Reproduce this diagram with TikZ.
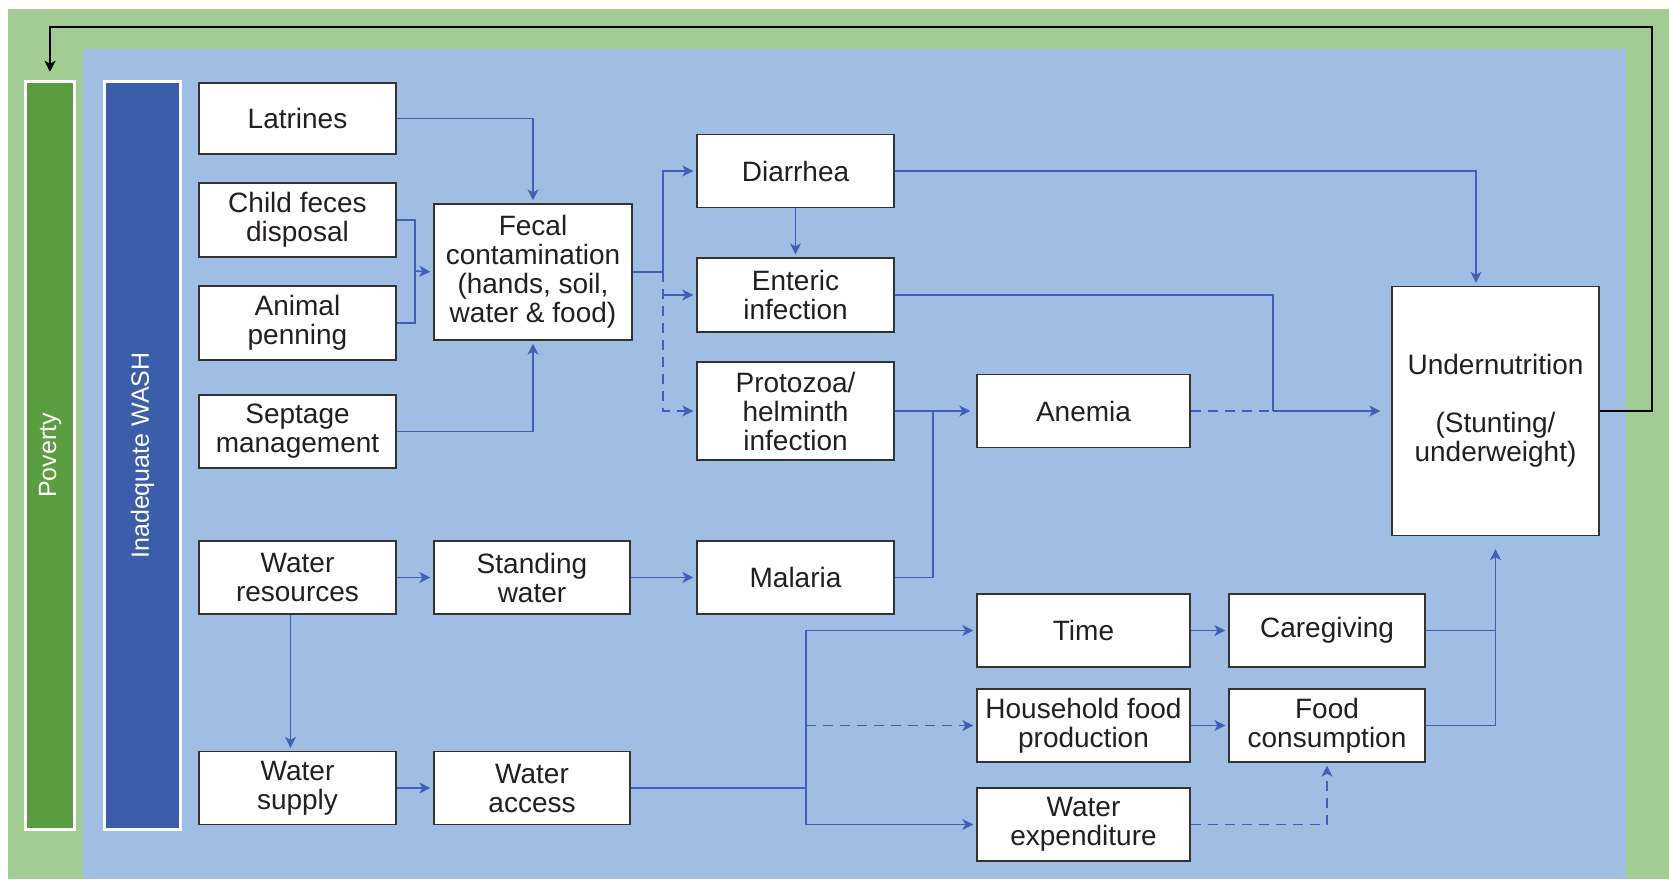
\documentclass[tikz,border=0pt]{standalone}
\usepackage{fontspec}
\setmainfont{Liberation Sans}
\usetikzlibrary{arrows.meta}
\definecolor{outergreen}{HTML}{A3CC94}
\definecolor{bluebg}{HTML}{A0BDE3}
\definecolor{povgreen}{HTML}{5A9E41}
\definecolor{washblue}{HTML}{3C5DAA}
\definecolor{flowblue}{HTML}{4060B8}
\definecolor{boxline}{HTML}{333333}
\definecolor{textdark}{HTML}{231F20}

\begin{document}
\begin{tikzpicture}[x=1pt, y=-1pt,
        >={Stealth[length=11pt,width=11pt,inset=3pt]},
        box/.style={draw=boxline, fill=white, line width=1.3pt, align=center, inner sep=0pt,
                minimum width=197, minimum height=73, text=textdark,
                font=\fontsize{28}{29}\selectfont},
        bar/.style={draw=white, line width=3.5pt, rotate=90, minimum width=748, text=white,
                font=\fontsize{25}{27}\selectfont},
        link/.style={draw=flowblue, line width=1.6pt},
        flow/.style={link, ->, shorten >=3pt},
        dashes/.style={dash pattern=on 10pt off 7pt},
        back/.style={draw=black, line width=1.6pt, ->}]
        \useasboundingbox (0,0) rectangle (1669,879);
        \fill[outergreen] (8,9) rectangle (1669,879);
        \fill[bluebg] (83,49) rectangle (1626,879);

        \node[bar, fill=povgreen, minimum height=49] (poverty) at (50,455.5) {Poverty};
        \node[bar, fill=washblue, minimum height=76] (wash) at (142.5,455.5) {Inadequate WASH};

        \node[box, minimum height=71] (latr) at (297.5,118.5) {Latrines};
        \node[box, minimum height=74] (child) at (297.5,220) {Child feces\\disposal};
        \node[box, minimum height=74] (animal) at (297.5,323) {Animal\\penning};
        \node[box] (septage) at (297.5,431.5) {Septage\\management};
        \node[box, minimum width=198, minimum height=136] (fecal) at (533,272) {Fecal\\contamination\\(hands, soil,\\water \& food)};
        \node[box] (diarr) at (795.5,171) {Diarrhea};
        \node[box, minimum height=74] (enteric) at (795.5,295) {Enteric\\infection};
        \node[box, minimum height=98] (proto) at (795.5,411) {Protozoa/\\helminth\\infection};
        \node[box, minimum width=213] (anemia) at (1083.5,411) {Anemia};
        \node[box, minimum width=207, minimum height=249] (under) at (1495.5,411) {Undernutrition\\[29pt](Stunting/\\underweight)};
        \node[box] (wres) at (297.5,577.5) {Water\\resources};
        \node[box, minimum width=196] (standing) at (532,577.5) {Standing\\water};
        \node[box] (malaria) at (795.5,577.5) {Malaria};
        \node[box, minimum width=213] (time) at (1083.5,630.5) {Time};
        \node[box, minimum width=196] (care) at (1327,630.5) {Caregiving};
        \node[box, minimum width=213] (hhfood) at (1083.5,725.5) {Household food\\production};
        \node[box, minimum width=196] (foodcons) at (1327,725.5) {Food\\consumption};
        \node[box] (wsupply) at (297.5,788) {Water\\supply};
        \node[box, minimum width=196] (waccess) at (532,788) {Water\\access};
        \node[box, minimum width=213] (wexp) at (1083.5,824.5) {Water\\expenditure};

        \coordinate (cfj) at (415,271);
        \coordinate (fj) at (663,272);
        \coordinate (dj) at (1476,171);
        \coordinate (ej) at (1273,411);
        \coordinate (mj) at (933,411);
        \coordinate (aj) at (806,788);
        \coordinate (fbc) at (1652,27);

        \draw[flow] (latr.east) -| (fecal.north);
        \draw[link] (child.east) -| (cfj) |- (animal.east);
        \draw[flow] (cfj) -- (fecal.west);
        \draw[flow] (septage.east) -| (fecal.south);

        \draw[link] (fecal.east) -- (fj);
        \draw[flow] (fj) |- (diarr.west);
        \draw[flow] (fj |- enteric.west) -- (enteric.west);
        \draw[flow, dashes] (fj) |- (proto.west);
        \draw[flow] (diarr) -- (enteric);
        \draw[flow] (diarr.east) -- (dj) -- (dj |- under.north);
        \draw[link] (enteric.east) -| (ej);
        \draw[flow, shorten >=11pt] (ej) -- (under.west);
        \draw[link, dashes] (anemia.east) -- (ej);
        \draw[flow, shorten >=6pt] (proto.east) -- (anemia.west);
        \draw[link] (malaria.east) -| (mj);

        \draw[flow] (wres) -- (standing);
        \draw[flow] (standing) -- (malaria);
        \draw[flow] ([xshift=-7pt]wres.south) -- ([xshift=-7pt]wsupply.north);
        \draw[flow] (wsupply) -- (waccess);
        \draw[link] (waccess.east) -- (aj);
        \draw[flow] (aj) |- (time.west);
        \draw[flow, dashes] (aj |- hhfood.west) -- (hhfood.west);
        \draw[flow] (aj) |- (wexp.west);
        \draw[flow] (time) -- (care);
        \draw[flow] (hhfood) -- (foodcons);
        \draw[flow, dashes] (wexp.east) -| (foodcons.south);
        \draw[flow, shorten >=13pt] (foodcons.east) -| (under.south);
        \draw[link] (care.east) -- (care.east -| under.south);

        \draw[back, shorten >=8pt] (under.east) -| (fbc) -| (poverty.east);
\end{tikzpicture}
\end{document}
